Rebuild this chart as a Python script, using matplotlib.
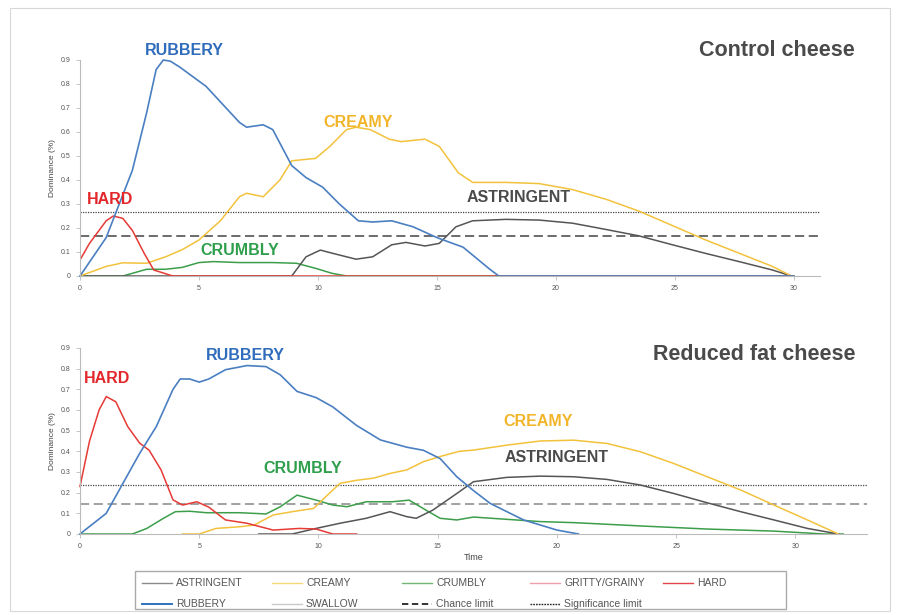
import matplotlib.pyplot as plt
from matplotlib.lines import Line2D
from matplotlib.patches import Rectangle

# ---------------- Control cheese ----------------
c_rub_t = [0, 1.1, 2.2, 2.8, 3.2, 3.5, 3.8, 4.2, 5.3, 6.7, 7.0, 7.7, 8.1, 8.9, 9.5, 10.2, 10.9, 11.7, 12.3, 13.1, 14.0, 15.0, 16.1, 17.2, 17.6, 30]
c_rub_v = [0, 0.16, 0.44, 0.68, 0.86, 0.90, 0.895, 0.87, 0.79, 0.64, 0.62, 0.63, 0.61, 0.46, 0.41, 0.37, 0.30, 0.23, 0.225, 0.23, 0.205, 0.16, 0.12, 0.03, 0, 0]

c_hard_t = [0, 0.4, 1.1, 1.4, 1.8, 2.2, 2.7, 3.1, 3.9, 30]
c_hard_v = [0.067, 0.136, 0.23, 0.25, 0.24, 0.19, 0.094, 0.025, 0, 0]

c_cream_t = [0, 1.1, 1.8, 2.8, 3.6, 4.3, 5.0, 5.9, 6.7, 7.0, 7.7, 8.4, 8.9, 9.9, 10.5, 11.2, 11.6, 12.2, 13.0, 13.5, 14.5, 15.1,
             15.9, 16.5, 17.9, 19.3, 20.7, 22.1, 23.5, 24.9, 26.3, 27.7, 29.1, 29.9]
c_cream_v = [0, 0.04, 0.055, 0.053, 0.08, 0.11, 0.15, 0.23, 0.33, 0.345, 0.33, 0.40, 0.48, 0.49, 0.54, 0.61, 0.62, 0.61, 0.57, 0.56, 0.57, 0.54,
             0.43, 0.39, 0.39, 0.385, 0.36, 0.32, 0.27, 0.21, 0.15, 0.095, 0.04, 0]

c_astr_t = [0, 8.9, 9.5, 10.1, 10.6, 11.6, 12.3, 13.1, 13.7, 14.5, 15.1, 15.8, 16.5, 17.9, 19.3, 20.7, 22.1, 23.5, 24.9, 26.3, 27.7, 29.1, 29.9]
c_astr_v = [0, 0, 0.08, 0.108, 0.095, 0.07, 0.08, 0.13, 0.14, 0.125, 0.136, 0.205, 0.23, 0.236, 0.233, 0.22, 0.194, 0.167, 0.13, 0.094, 0.06, 0.025, 0]

c_crum_t = [0, 1.8, 2.8, 3.6, 4.3, 5.0, 5.6, 6.7, 8.1, 9.1, 9.9, 10.6, 11.2, 30]
c_crum_v = [0, 0, 0.028, 0.028, 0.036, 0.056, 0.06, 0.056, 0.056, 0.053, 0.032, 0.011, 0, 0]

c_signif = 0.268
c_chance = 0.167

# ---------------- Reduced fat cheese ----------------
r_rub_t = [0, 1.1, 1.8, 2.5, 3.2, 3.9, 4.2, 4.6, 5.0, 5.4, 6.1, 7.0, 7.8, 8.4, 9.1, 9.9, 10.6, 11.6, 12.6, 13.7, 14.4, 15.1,
           15.8, 16.5, 17.2, 18.6, 20.0, 20.9]
r_rub_v = [0, 0.10, 0.245, 0.39, 0.52, 0.70, 0.75, 0.75, 0.735, 0.75, 0.795, 0.815, 0.81, 0.77, 0.69, 0.66, 0.615, 0.525, 0.455, 0.42, 0.405, 0.365,
           0.277, 0.21, 0.148, 0.068, 0.019, 0]

r_hard_t = [0, 0.4, 0.8, 1.1, 1.5, 2.0, 2.5, 2.9, 3.4, 3.9, 4.3, 4.9, 5.4, 6.1, 7.0, 8.1, 9.2, 9.9, 10.6, 11.6]
r_hard_v = [0.23, 0.45, 0.60, 0.665, 0.64, 0.52, 0.44, 0.405, 0.31, 0.165, 0.14, 0.156, 0.13, 0.068, 0.052, 0.019, 0.027, 0.024, 0, 0]

r_crum_t = [0, 2.2, 2.8, 3.5, 4.0, 4.6, 5.3, 6.7, 7.8, 8.4, 9.1, 9.9, 10.6, 11.2, 12.0, 13.1, 13.8, 14.5, 15.1, 15.8, 16.5,
            17.9, 19.3, 20.7, 23.5, 26.3, 29.1, 31.2, 32]
r_crum_v = [0, 0, 0.027, 0.076, 0.108, 0.11, 0.103, 0.103, 0.097, 0.132, 0.188, 0.164, 0.14, 0.132, 0.156, 0.156, 0.164, 0.116, 0.076, 0.068, 0.082,
            0.071, 0.06, 0.055, 0.039, 0.024, 0.014, 0, 0]

r_cream_t = [4.3, 5.0, 5.7, 6.7, 7.3, 8.1, 8.9, 9.8, 10.3, 10.9, 11.6, 12.3, 13.0, 13.7, 14.4, 15.1, 15.9, 16.5, 17.9, 19.3,
             20.7, 22.1, 23.5, 24.9, 26.3, 27.7, 29.1, 30.5, 31.8]
r_cream_v = [0, 0, 0.027, 0.035, 0.043, 0.092, 0.108, 0.124, 0.18, 0.245, 0.26, 0.27, 0.293, 0.31, 0.35, 0.375, 0.40, 0.406, 0.43, 0.45,
             0.454, 0.438, 0.398, 0.341, 0.277, 0.213, 0.14, 0.068, 0]

r_astr_t = [7.5, 8.9, 9.9, 10.9, 12.0, 13.0, 13.7, 14.1, 14.8, 15.8, 16.5, 17.9, 19.3, 20.7, 22.1, 23.5, 24.9, 26.3, 27.7, 29.1, 30.5, 31.8]
r_astr_v = [0, 0, 0.027, 0.052, 0.076, 0.108, 0.084, 0.076, 0.116, 0.196, 0.253, 0.274, 0.28, 0.277, 0.264, 0.237, 0.196, 0.151, 0.108, 0.068, 0.027, 0]

r_signif = 0.237
r_chance = 0.145

# legend entries, in row order
legend_labels = ['ASTRINGENT', 'CREAMY', 'CRUMBLY', 'GRITTY/GRAINY', 'HARD',
                 'RUBBERY', 'SWALLOW', 'Chance limit', 'Significance limit']

COL = {
    'RUBBERY': '#4a7fc1',
    'CREAMY': '#f2c23c',
    'CRUMBLY': '#3c9e4a',
    'HARD': '#e63a36',
    'ASTRINGENT': '#555555',
}
TXT = {
    'RUBBERY': '#2f6cbc',
    'CREAMY': '#f2b52a',
    'CRUMBLY': '#2f9f4c',
    'HARD': '#e3262a',
    'ASTRINGENT': '#4a4a4a',
}
LEG_STYLE = {
    'ASTRINGENT': dict(color='#8a8a8a', lw=1),
    'CREAMY': dict(color='#f7d978', lw=1),
    'CRUMBLY': dict(color='#74b474', lw=1),
    'GRITTY/GRAINY': dict(color='#f0a0aa', lw=1),
    'HARD': dict(color='#e4454a', lw=1),
    'RUBBERY': dict(color='#2f72bf', lw=1.4),
    'SWALLOW': dict(color='#c8c8c8', lw=1),
    'Chance limit': dict(color='#222222', lw=1.3, linestyle=(0, (3.5, 2))),
    'Significance limit': dict(color='#222222', lw=1, linestyle=(0, (1.2, 0.8))),
}


def style_axes(ax, xmax, ymax):
    ax.set_xlim(0, xmax)
    ax.set_ylim(0, ymax)
    for s in ['top', 'right']:
        ax.spines[s].set_visible(False)
    for s in ['left', 'bottom']:
        ax.spines[s].set_color('#bbbbbb')
        ax.spines[s].set_linewidth(0.8)
    ax.set_xticks([0, 5, 10, 15, 20, 25, 30])
    ax.set_yticks([0, 0.1, 0.2, 0.3, 0.4, 0.5, 0.6, 0.7, 0.8, 0.9])
    ax.set_yticklabels(['0', '0.1', '0.2', '0.3', '0.4', '0.5', '0.6', '0.7', '0.8', '0.9'])
    ax.tick_params(labelsize=5, colors='#bbbbbb', labelcolor='#555555', length=3, width=0.6)
    ax.set_ylabel('Dominance (%)', fontsize=6, color='#444444', labelpad=4)


def main():
    plt.rcParams['font.family'] = ['Liberation Sans', 'DejaVu Sans']
    fig = plt.figure(figsize=(8.97, 6.15), dpi=100)

    W, H = 897.0, 615.0
    fig.patches.append(Rectangle((10 / W, 4 / H), 880 / W, 603 / H, transform=fig.transFigure,
                                 fill=False, edgecolor='#d8d8d8', linewidth=0.8))

    # top panel
    ax = fig.add_axes([80 / W, (H - 276) / H, (820 - 80) / W, (276 - 60) / H])
    style_axes(ax, 31.1, 0.9)
    ax.axhline(c_signif, color='#444444', linestyle=(0, (1, 1)), linewidth=0.9)
    ax.axhline(c_chance, color='#444444', linestyle=(0, (6, 3)), linewidth=1.1)
    ax.plot(c_crum_t, c_crum_v, color=COL['CRUMBLY'], lw=1.1)
    ax.plot(c_astr_t, c_astr_v, color=COL['ASTRINGENT'], lw=1.1)
    ax.plot(c_cream_t, c_cream_v, color=COL['CREAMY'], lw=1.1)
    ax.plot(c_hard_t, c_hard_v, color=COL['HARD'], lw=1.1)
    ax.plot(c_rub_t, c_rub_v, color=COL['RUBBERY'], lw=1.2, clip_on=False)

    lab = dict(fontsize=11.5, fontweight='bold', ha='center', va='center', clip_on=False)
    ax.text(4.4, 0.94, 'RUBBERY', color=TXT['RUBBERY'], **lab)
    ax.text(1.25, 0.32, 'HARD', color=TXT['HARD'], **lab)
    ax.text(11.7, 0.64, 'CREAMY', color=TXT['CREAMY'], **lab)
    ax.text(6.7, 0.108, 'CRUMBLY', color=TXT['CRUMBLY'], **lab)
    ax.text(18.45, 0.325, 'ASTRINGENT', color=TXT['ASTRINGENT'], **lab)
    fig.text(855 / W, 1 - 50 / H, 'Control cheese', fontsize=15.5, fontweight='bold',
             color='#4a4a4a', ha='right', va='center')

    # bottom panel
    ax2 = fig.add_axes([80 / W, (H - 534) / H, (867 - 80) / W, (534 - 348) / H])
    style_axes(ax2, 33.0, 0.9)
    ax2.axhline(r_signif, color='#444444', linestyle=(0, (1, 1)), linewidth=0.9)
    ax2.axhline(r_chance, color='#888888', linestyle=(0, (6, 3)), linewidth=1.1)
    ax2.plot(r_crum_t, r_crum_v, color=COL['CRUMBLY'], lw=1.1)
    ax2.plot(r_astr_t, r_astr_v, color=COL['ASTRINGENT'], lw=1.1)
    ax2.plot(r_cream_t, r_cream_v, color=COL['CREAMY'], lw=1.1)
    ax2.plot(r_hard_t, r_hard_v, color=COL['HARD'], lw=1.1, clip_on=False)
    ax2.plot(r_rub_t, r_rub_v, color=COL['RUBBERY'], lw=1.2, clip_on=False)
    ax2.set_xlabel('Time', fontsize=6.5, color='#444444', labelpad=2)

    ax2.text(1.13, 0.754, 'HARD', color=TXT['HARD'], **lab)
    ax2.text(6.95, 0.865, 'RUBBERY', color=TXT['RUBBERY'], **lab)
    ax2.text(9.33, 0.319, 'CRUMBLY', color=TXT['CRUMBLY'], **lab)
    ax2.text(19.2, 0.546, 'CREAMY', color=TXT['CREAMY'], **lab)
    ax2.text(20.0, 0.372, 'ASTRINGENT', color=TXT['ASTRINGENT'], **lab)
    fig.text(855 / W, 1 - 355 / H, 'Reduced fat cheese', fontsize=15.5, fontweight='bold',
             color='#4a4a4a', ha='right', va='center')

    # legend box drawn by hand (Excel-style fixed column widths)
    fig.patches.append(Rectangle((135 / W, 1 - 609 / H), (786 - 135) / W, (609 - 571) / H,
                                 transform=fig.transFigure, fill=False,
                                 edgecolor='#aaaaaa', linewidth=1.0))
    col_x = [142, 272, 402, 530, 663]
    row_y = [583, 604]
    for i, name in enumerate(legend_labels):
        x0 = col_x[i % 5]
        y0 = row_y[i // 5]
        fig.lines.append(Line2D([x0 / W, (x0 + 30) / W], [1 - y0 / H, 1 - y0 / H],
                                transform=fig.transFigure, **LEG_STYLE[name]))
        fig.text((x0 + 34) / W, 1 - y0 / H, name, fontsize=7.5, color='#555555',
                 ha='left', va='center')

    fig.savefig('out.png', dpi=100)


if __name__ == '__main__':
    main()
